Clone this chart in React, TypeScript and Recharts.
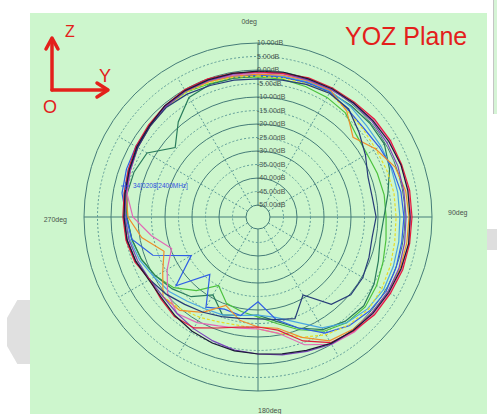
import { RadarChart, Radar, PolarGrid, PolarAngleAxis, PolarRadiusAxis } from 'recharts';

// measurement angles, degrees clockwise from the Z axis
const ANGLES = [0, 10, 20, 30, 40, 50, 60, 70, 80, 90, 100, 110, 120, 130, 140, 150, 160, 170, 180, 190, 200, 210, 220, 230, 240, 250, 260, 270, 280, 290, 300, 310, 320, 330, 340, 350];

// gain in dB per trace
const BLACK = [-0.4, 0.0, 0.0, 0.4, 0.7, 1.1, 1.5, 1.9, 1.9, 1.9, 2.2, 1.9, 1.5, 1.1, 0.4, -0.4, -1.9, -3.0, -3.7, -4.1, -4.8, -5.6, -6.7, -7.8, -7.8, -6.3, -5.2, -4.8, -4.4, -3.7, -2.6, -1.9, -0.7, -0.4, -0.4, -0.4];
const NAVY = [-3.3, -3.0, -2.2, -1.5, -2.2, -5.6, -8.5, -11.1, -11.5, -10.7, -11.5, -10.7, -9.6, -9.6, -12.2, -21.1, -14.4, -15.9, -16.7, -16.3, -15.2, -13.7, -12.2, -10.0, -8.1, -6.3, -5.2, -4.8, -4.4, -3.7, -3.0, -2.2, -1.5, -1.9, -2.6, -3.0];
const RED = [-0.7, -0.4, 0.4, 0.7, 1.1, 1.9, 2.2, 2.2, 2.6, 2.6, 2.6, 2.6, 2.2, 1.9, 0.7, -0.7, -5.6, -11.9, -13.7, -13.0, -10.7, -7.0, -6.3, -7.4, -8.1, -5.9, -4.8, -4.4, -4.1, -3.3, -2.2, -1.5, -0.7, 0.0, 0.0, -0.4];
const PINK = [-1.1, -0.7, -0.4, 0.0, 0.7, 1.5, 1.9, 1.9, 2.2, 2.2, 2.2, 2.2, 1.9, 1.5, 1.1, 0.0, -4.1, -10.7, -13.0, -12.6, -11.5, -9.3, -7.8, -10.7, -15.6, -20.4, -14.4, -8.1, -5.2, -4.1, -3.0, -1.9, -1.1, -0.4, -0.7, -1.1];
const ORANGE = [-1.5, -1.1, -0.7, -0.4, -3.3, -8.5, -4.1, -0.4, 1.1, 1.5, 1.5, 1.5, 1.1, 0.7, 0.0, -1.5, -7.0, -12.6, -13.7, -15.6, -19.6, -13.7, -9.3, -8.5, -13.7, -17.4, -10.7, -6.3, -4.8, -4.1, -3.0, -2.2, -1.1, -0.7, -1.1, -1.5];
const YELLOW = [-2.2, -2.2, -1.9, -1.5, -3.0, -3.7, -4.1, -3.7, -3.3, -3.3, -3.0, -2.2, -1.5, -1.1, -2.2, -4.1, -7.0, -10.7, -13.0, -13.7, -13.0, -11.5, -10.0, -8.5, -7.8, -7.0, -5.9, -5.2, -4.4, -4.1, -3.0, -2.2, -1.5, -1.1, -1.5, -1.9];
const GREEN = [-2.6, -2.6, -3.0, -3.3, -4.1, -7.0, -7.8, -7.4, -7.0, -7.0, -6.3, -5.2, -3.7, -2.6, -3.3, -5.6, -10.0, -14.4, -17.4, -18.9, -20.4, -25.2, -18.9, -13.7, -10.7, -8.5, -7.0, -5.9, -4.8, -3.7, -2.6, -1.9, -1.1, -1.1, -1.9, -2.2];
const BLUE = [-1.9, -1.9, -1.5, -1.1, -2.6, -3.3, -2.6, -1.5, -0.7, -0.4, -0.4, 0.0, 0.4, -0.4, -1.9, -4.8, -10.7, -15.9, -23.0, -17.4, -18.1, -15.9, -26.7, -14.8, -25.9, -13.0, -7.0, -5.6, -3.3, -2.6, -2.2, -1.9, -0.7, -0.4, -0.7, -1.5];
const SKY = [-1.5, -1.5, -1.1, -0.7, -1.1, -1.9, -1.9, -1.9, -1.9, -1.9, -1.5, -1.1, -0.7, -1.5, -3.3, -7.0, -13.0, -16.7, -18.1, -17.4, -15.9, -15.2, -13.7, -11.5, -10.0, -7.8, -6.3, -5.2, -4.1, -3.3, -2.6, -1.9, -1.1, -0.7, -1.1, -1.5];
const PURPLE = [-0.7, -0.4, -0.4, 0.0, 0.4, 0.7, 0.7, 0.7, 0.4, 0.4, 0.7, 1.1, 1.1, 0.7, 0.4, 0.0, -1.5, -2.6, -3.7, -4.4, -5.6, -6.7, -7.8, -8.5, -8.1, -7.0, -5.9, -5.2, -4.8, -4.1, -3.0, -2.2, -1.1, -0.7, -0.7, -0.7];
const TEAL = [-2.2, -1.9, -1.5, -1.1, -0.7, -0.4, -0.4, -2.6, -5.6, -7.8, -8.5, -7.0, -4.8, -3.3, -4.1, -6.3, -10.7, -15.2, -18.1, -17.4, -15.9, -21.1, -15.9, -13.0, -10.7, -8.5, -7.0, -5.9, -5.2, -5.6, -7.0, -14.4, -8.5, -3.3, -2.2, -2.2];

const RADIUS_TICKS = [-50, -45, -40, -35, -30, -25, -20, -15, -10, -5, 0, 5, 10];
const SOLID_RINGS = [-50, -40, -30, -20, -10, 0, 10];
const DASHED_RINGS = [-45, -35, -25, -15, -5, 5];
const CROSS_ANGLES = [0, 90, 180, 270];
const DASHED_SPOKES = [30, 60, 120, 150, 210, 240, 300, 330];
const ANGLE_LABELS = [0, 90, 180, 270];
const MARKER_TEXT = '34[0208[2400MHz]';

const SERIES = [
  { key: 'green', values: GREEN, color: '#4cc23e' },
  { key: 'teal', values: TEAL, color: '#2a7c5c' },
  { key: 'sky', values: SKY, color: '#4aa6e2' },
  { key: 'blue', values: BLUE, color: '#2f5ee6' },
  { key: 'yellow', values: YELLOW, color: '#e6dc2a', dash: '3 2' },
  { key: 'orange', values: ORANGE, color: '#ef8e2c' },
  { key: 'pink', values: PINK, color: '#e268b6' },
  { key: 'purple', values: PURPLE, color: '#7a44bc' },
  { key: 'navy', values: NAVY, color: '#263c78' },
  { key: 'red', values: RED, color: '#e41c3c' },
  { key: 'black', values: BLACK, color: '#1a1a34' },
];

const data = ANGLES.map((angle, i) => {
  const row: Record<string, number> = { angle };
  SERIES.forEach((s) => {
    row[s.key] = s.values[i];
  });
  return row;
});

const W = 497;
const H = 414;
const CX = 258;
const CY = 217;
const INNER = 12;
const OUTER = 174;
const MIN_DB = -50;
const MAX_DB = 10;
const GREEN_BG = '#cdf6cd';
const GRID = '#457c78';
const GRID_DASH = '#5f9c98';

const rOf = (v: number) => INNER + ((v - MIN_DB) / (MAX_DB - MIN_DB)) * (OUTER - INNER);
const toMath = (a: number) => 90 - a;

// where each compass label sits relative to the centre
const LABEL_POS: Record<number, { dx: number; dy: number; anchor: 'start' | 'end' }> = {
  0: { dx: -1, dy: -195, anchor: 'end' },
  90: { dx: 190, dy: -4, anchor: 'start' },
  180: { dx: 0, dy: 194, anchor: 'start' },
  270: { dx: -191, dy: 3, anchor: 'end' },
};

function AngleTick(props: any) {
  const a = props.payload?.value;
  if (!ANGLE_LABELS.includes(a)) return <g />;
  const p = LABEL_POS[a];
  return (
    <text x={CX + p.dx} y={CY + p.dy} dy="0.35em" textAnchor={p.anchor} fontSize={7} fill="#4a524c">
      {a}deg
    </text>
  );
}

function RadiusTick(props: any) {
  const { x, y, payload } = props;
  return (
    <text x={x - 1} y={y} dy="0.35em" textAnchor="start" fontSize={7} fill="#4a564e">
      {Number(payload.value).toFixed(2)}dB
    </text>
  );
}

const RED_MARK = '#e3201b';

export default function App() {
  return (
    <div
      style={{
        position: 'fixed',
        left: 0,
        top: 0,
        width: W,
        height: H,
        background: '#fff',
        overflow: 'hidden',
        fontFamily: '"Liberation Sans", Arial, sans-serif',
      }}
    >
      <div style={{ position: 'absolute', left: 30, top: 13, width: 457, height: 401, background: GREEN_BG }} />
      <div
        style={{
          position: 'absolute',
          left: 493,
          top: 0,
          width: 4,
          height: 114,
          background: '#d6f4d6',
          borderLeft: '1px solid #c4c4c4',
        }}
      />
      <div style={{ position: 'absolute', left: 487, top: 229, width: 10, height: 21, background: '#dedede' }} />
      <div
        style={{
          position: 'absolute',
          left: 7,
          top: 300,
          width: 23,
          height: 64,
          background: '#e0e0e0',
          clipPath: 'polygon(45% 0, 100% 0, 100% 100%, 45% 100%, 0 72%, 0 28%)',
        }}
      />

      {/* dashed spokes stop at the 5 dB ring */}
      <div style={{ position: 'absolute', left: 0, top: 0 }}>
        <RadarChart
          width={W}
          height={H}
          data={data}
          cx={CX}
          cy={CY}
          innerRadius={INNER}
          outerRadius={rOf(5)}
          startAngle={90}
          endAngle={-270}
          margin={{ top: 0, right: 0, bottom: 0, left: 0 }}
        >
          <PolarAngleAxis dataKey="angle" tick={false} axisLine={false} tickLine={false} />
          <PolarGrid
            gridType="circle"
            polarAngles={DASHED_SPOKES.map(toMath)}
            polarRadius={[]}
            stroke={GRID_DASH}
            strokeDasharray="2 2"
          />
        </RadarChart>
      </div>

      <div style={{ position: 'absolute', left: 0, top: 0 }}>
        <RadarChart
          width={W}
          height={H}
          data={data}
          cx={CX}
          cy={CY}
          innerRadius={INNER}
          outerRadius={OUTER}
          startAngle={90}
          endAngle={-270}
          margin={{ top: 0, right: 0, bottom: 0, left: 0 }}
        >
          <PolarGrid
            gridType="circle"
            polarAngles={CROSS_ANGLES.map(toMath)}
            polarRadius={SOLID_RINGS.map(rOf)}
            stroke={GRID}
          />
          <PolarGrid
            gridType="circle"
            radialLines={false}
            polarAngles={[]}
            polarRadius={DASHED_RINGS.map(rOf)}
            stroke={GRID_DASH}
            strokeDasharray="2 2"
          />
          <PolarAngleAxis dataKey="angle" axisLine={false} tickLine={false} tick={AngleTick} />
          <PolarRadiusAxis
            angle={90}
            type="number"
            domain={[MIN_DB, MAX_DB]}
            ticks={RADIUS_TICKS}
            axisLine={false}
            tickLine={false}
            tick={RadiusTick}
          />
          {SERIES.map((s) => (
            <Radar
              key={s.key}
              dataKey={s.key}
              stroke={s.color}
              strokeWidth={1.2}
              strokeDasharray={s.dash}
              fill="none"
              fillOpacity={0}
              dot={false}
              isAnimationActive={false}
            />
          ))}
        </RadarChart>
      </div>

      <svg width={W} height={H} style={{ position: 'absolute', left: 0, top: 0 }}>
        <g stroke={RED_MARK} strokeWidth={3.5} fill="none" strokeLinecap="round" strokeLinejoin="round">
          <path d="M52 90 V39" />
          <path d="M46 49 L52 38 L58 49" />
          <path d="M52 90 H107" />
          <path d="M97 83 L108 90 L97 97" />
        </g>
        <g fill={RED_MARK} fontFamily='"Liberation Sans", Arial, sans-serif'>
          <text x={65} y={37} fontSize={16}>Z</text>
          <text x={99} y={82} fontSize={18}>Y</text>
          <text x={43} y={113} fontSize={18}>O</text>
          <text x={345} y={45} fontSize={25}>YOZ Plane</text>
        </g>
        <g stroke="#3050e0" strokeWidth={0.8}>
          <path d="M121 186 H130 M125.5 182 V190" />
        </g>
        <text x={133} y={188} fontSize={6.5} fill="#3050e0" fontFamily='"Liberation Sans", Arial, sans-serif'>
          {MARKER_TEXT}
        </text>
      </svg>
    </div>
  );
}
